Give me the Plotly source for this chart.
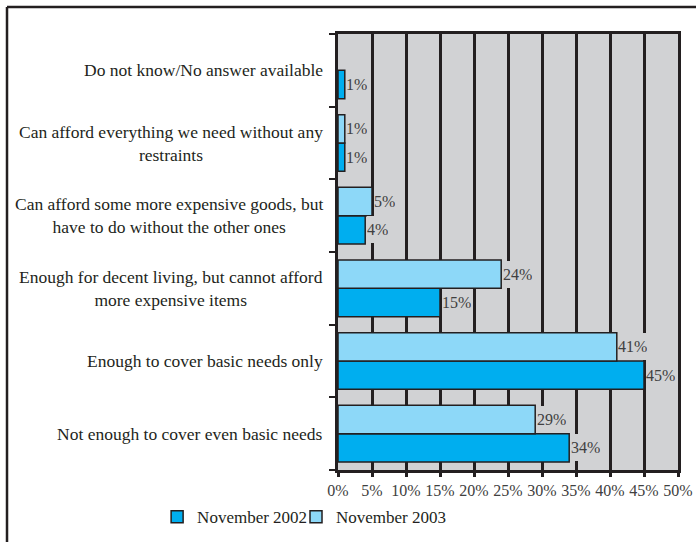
import plotly.graph_objects as go

categories = [
    "Not enough to cover even basic needs",
    "Enough to cover basic needs only",
    "Enough for decent living, but cannot afford<br>more expensive items",
    "Can afford some more expensive goods, but<br>have to do without the other ones",
    "Can afford everything we need without any<br>restraints",
    "Do not know/No answer available",
]
nov2002 = [34, 45, 15, 4, 1, 1]
nov2003 = [29, 41, 24, 5, 1, None]
x_ticks = [0, 5, 10, 15, 20, 25, 30, 35, 40, 45, 50]

FONT = "Liberation Serif, Times New Roman, serif"
INK = "#231f20"
PLOT_BG = "#d1d2d4"

fig = go.Figure()
fig.add_trace(go.Bar(
    y=categories, x=nov2002, orientation="h", name="November 2002", legend="legend",
    marker=dict(color="#00aeef", line=dict(color=INK, width=1.5)),
))
fig.add_trace(go.Bar(
    y=categories, x=nov2003, orientation="h", name="November 2003", legend="legend2",
    marker=dict(color="#8dd8f8", line=dict(color=INK, width=1.5)),
))

annotations = [
    dict(x=-0.038, xref="paper", y=c, yref="y", text=c, showarrow=False,
         xanchor="right", yanchor="middle", align="center",
         font=dict(family=FONT, size=17.5, color=INK))
    for c in categories
]

# value labels with a plot-coloured box (hides gridlines behind, as in the original)
for series, shift in ((nov2002, -14.2), (nov2003, 14.2)):
    for c, v in zip(categories, series):
        if v is None:
            continue
        annotations.append(dict(
            x=v, xref="x", y=c, yref="y", text=f"{v}%", showarrow=False,
            xanchor="left", yanchor="middle", xshift=1.5, yshift=shift,
            bgcolor=PLOT_BG, height=27, borderpad=0, borderwidth=0,
            font=dict(family=FONT, size=16, color="#404040"),
        ))

legend_style = dict(orientation="h", yanchor="middle", y=-0.108, xanchor="left",
                    font=dict(family=FONT, size=17, color=INK),
                    itemwidth=30, bgcolor="rgba(0,0,0,0)")

fig.update_layout(
    width=696, height=542,
    barmode="group", bargap=0.22, bargroupgap=0.0,
    plot_bgcolor=PLOT_BG, paper_bgcolor="white",
    margin=dict(l=338, r=18, t=34, b=72, autoexpand=False),
    font=dict(family=FONT, size=16, color=INK),
    showlegend=True,
    legend=dict(x=-0.532, **legend_style),
    legend2=dict(x=-0.1235, **legend_style),
    xaxis=dict(range=[0, 50], tickvals=x_ticks, ticktext=[f"{t}%" for t in x_ticks],
               showgrid=True, gridcolor=INK, gridwidth=2.5,
               showline=True, linecolor=INK, linewidth=2.5, mirror=True,
               ticks="outside", ticklen=4, tickwidth=2.5, tickcolor=INK,
               tickfont=dict(family=FONT, size=16, color="#404040"),
               zeroline=False),
    yaxis=dict(showline=True, linecolor=INK, linewidth=2.5, mirror=True,
               ticks="outside", tickson="boundaries", ticklen=6, tickwidth=2,
               tickcolor=INK, showgrid=False, showticklabels=False),
    annotations=annotations,
    shapes=[
        dict(type="line", xref="paper", yref="paper", x0=-0.9735, x1=1.07,
             y0=1.0619, y1=1.0619, line=dict(color=INK, width=2.5)),
        dict(type="line", xref="paper", yref="paper", x0=-0.9735, x1=-0.9735,
             y0=1.0619, y1=-0.2, line=dict(color=INK, width=2.5)),
    ],
)

fig.write_html("out.html", config={"displayModeBar": False},
               post_script="document.body.style.margin='0';document.body.style.overflow='hidden';")
